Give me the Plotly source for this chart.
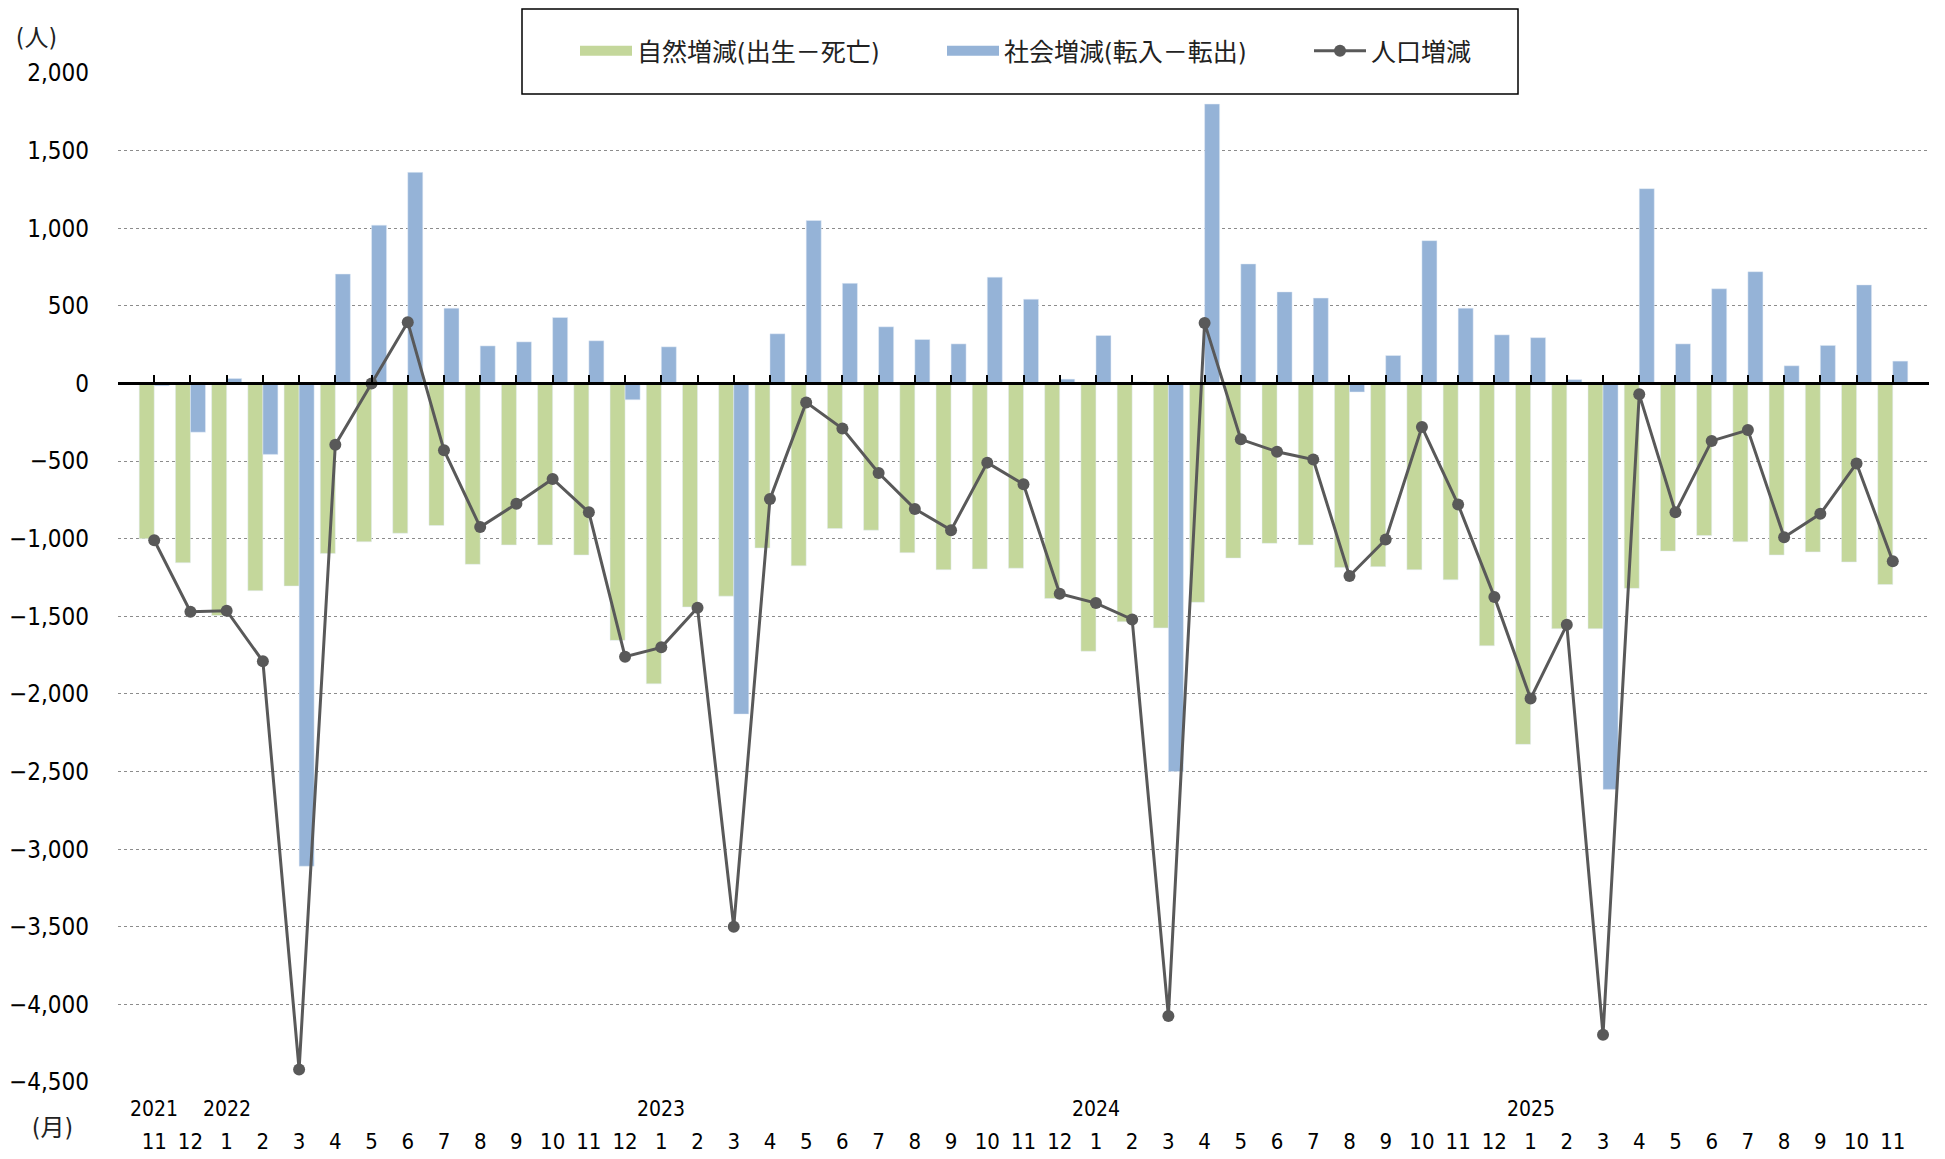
import plotly.graph_objects as go

months = [11, 12,
          1, 2, 3, 4, 5, 6, 7, 8, 9, 10, 11, 12,
          1, 2, 3, 4, 5, 6, 7, 8, 9, 10, 11, 12,
          1, 2, 3, 4, 5, 6, 7, 8, 9, 10, 11, 12,
          1, 2, 3, 4, 5, 6, 7, 8, 9, 10, 11]
year_labels = {0: "2021", 2: "2022", 14: "2023", 26: "2024", 38: "2025"}

natural = [-1000, -1155,
           -1495, -1335, -1305, -1095, -1020, -965, -915, -1165, -1040, -1040, -1105, -1655,
           -1935, -1440, -1370, -1060, -1175, -935, -945, -1090, -1200, -1195, -1190, -1385,
           -1725, -1535, -1575, -1410, -1125, -1030, -1040, -1185, -1180, -1200, -1265, -1690,
           -2325, -1580, -1580, -1320, -1080, -980, -1020, -1105, -1085, -1150, -1295]
social = [-15, -314,
          32, -457, -3110, 705, 1020, 1360, 485, 242, 268, 425, 275, -105,
          236, -5, -2130, 320, 1050, 645, 365, 283, 255, 685, 543, 28,
          309, 10, -2500, 1800, 770, 590, 550, -55, 180, 920, 485, 313,
          295, 25, -2615, 1255, 255, 610, 720, 114, 245, 635, 144]
population = [-1010, -1470,
              -1464, -1790, -4420, -395, 0, 395, -430, -925, -775, -615, -830, -1760,
              -1700, -1445, -3500, -745, -122, -290, -577, -808, -945, -510, -650, -1355,
              -1415, -1520, -4075, 390, -360, -440, -490, -1240, -1005, -280, -780, -1375,
              -2030, -1555, -4195, -70, -830, -370, -300, -990, -840, -515, -1145]

series_names = ["自然増減(出生－死亡)", "社会増減(転入－転出)", "人口増減"]
GREEN = "#C4D79B"
BLUE = "#95B3D7"
GRAY = "#595959"
FONT = "DejaVu Sans Condensed, Liberation Sans Narrow, Noto Sans CJK JP, sans-serif"

idx = list(range(len(months)))

fig = go.Figure()
# bars (their legend entries are drawn by the swatch traces below)
fig.add_trace(go.Bar(x=idx, y=natural, name=series_names[0], marker_color=GREEN,
                     showlegend=False))
fig.add_trace(go.Bar(x=idx, y=social, name=series_names[1], marker_color=BLUE,
                     showlegend=False))
# legend swatches
fig.add_trace(go.Scatter(x=[None], y=[None], mode="lines", name=series_names[0],
                         line=dict(color=GREEN, width=12)))
fig.add_trace(go.Scatter(x=[None], y=[None], mode="lines", name=series_names[1],
                         line=dict(color=BLUE, width=12)))
fig.add_trace(go.Scatter(x=idx, y=population, mode="lines+markers", name=series_names[2],
                         xaxis="x2", yaxis="y",
                         line=dict(color=GRAY, width=3),
                         marker=dict(color=GRAY, size=12)))

# the page body has an 8px margin: work in window coordinates, convert with OFF
OFF = 8
W, H = 1945, 1159
PX0, PX1, PY0, PY1 = 118, 1929, 73, 1082      # plot area in window pixels
L, R, T, B = PX0 - OFF, W - (PX1 - OFF), PY0 - OFF, H - (PY1 - OFF)
plot_w = PX1 - PX0
plot_h = PY1 - PY0


def px(xw):
    return (xw - PX0) / plot_w


def py(yw):
    return (PY1 - yw) / plot_h


ymin, ymax = -4500, 2000
zero_pos = (0 - ymin) / (ymax - ymin)

fig.update_layout(
    width=W, height=H,
    margin=dict(l=L, r=R, t=T, b=B, autoexpand=False),
    paper_bgcolor="white", plot_bgcolor="white",
    font=dict(family=FONT, size=22, color="black"),
    barmode="group", bargap=0.17, bargroupgap=0,
    showlegend=True,
    legend=dict(orientation="h", x=px(583 - 8), xanchor="left",
                y=py(51), yanchor="middle",
                entrywidth=300, entrywidthmode="pixels", itemwidth=52,
                font=dict(family=FONT, size=25, color="#222222"),
                bgcolor="rgba(0,0,0,0)", borderwidth=0),
    xaxis=dict(range=[-1, len(months)], tickmode="array", tickvals=idx,
               ticktext=[str(m) for m in months], ticks="", showline=False,
               showgrid=False, zeroline=False, ticklabelstandoff=44,
               tickfont=dict(size=22)),
    xaxis2=dict(overlaying="x", anchor="free", position=zero_pos,
                range=[-1, len(months)], tickmode="array",
                tickvals=list(range(-1, len(months) + 1)),
                ticks="inside", ticklen=7, tickwidth=2, tickcolor="black",
                showticklabels=False, showline=True, linecolor="black", linewidth=3,
                showgrid=False, zeroline=False, side="bottom"),
    yaxis=dict(range=[ymin, ymax], tickmode="array",
               tickvals=list(range(ymin, ymax + 1, 500)), tickformat=",",
               showgrid=True, gridcolor="#8C8C8C", griddash="dot", gridwidth=1,
               zeroline=False, showline=False, ticks="", ticklabelstandoff=28,
               tickfont=dict(size=24)),
)

# legend frame
fig.add_shape(type="rect", xref="paper", yref="paper",
              x0=px(522), x1=px(1518), y0=py(94), y1=py(9),
              line=dict(color="black", width=1.5), fillcolor="rgba(0,0,0,0)", layer="below")

for i, yl in year_labels.items():
    fig.add_annotation(x=i, y=py(1109), xref="x", yref="paper",
                       text=yl, showarrow=False, xanchor="center", yanchor="middle",
                       font=dict(size=21))
fig.add_annotation(x=px(14), y=py(38), xref="paper", yref="paper",
                   text="(人)", showarrow=False, xanchor="left", yanchor="middle",
                   font=dict(size=24, color="#222222"))
fig.add_annotation(x=px(30), y=py(1128), xref="paper", yref="paper",
                   text="(月)", showarrow=False, xanchor="left", yanchor="middle",
                   font=dict(size=24, color="#222222"))

fig.write_html("out.html")
